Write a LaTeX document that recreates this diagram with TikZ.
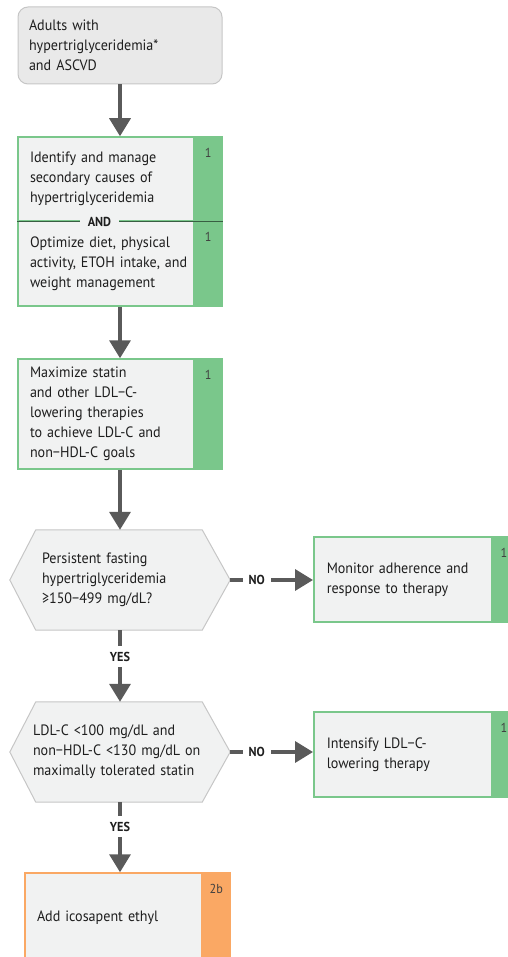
\documentclass[tikz,border=0pt]{standalone}
\usepackage{fontspec}
\setmainfont{PT Sans}[FakeStretch=0.94]
\usetikzlibrary{arrows.meta,positioning,backgrounds}
\definecolor{boxgray}{RGB}{241,242,242}
\definecolor{startgray}{RGB}{233,233,233}
\definecolor{edgegray}{RGB}{198,198,198}
\definecolor{recgreen}{RGB}{122,199,139}
\definecolor{darkgreen}{RGB}{56,94,66}
\definecolor{recorange}{RGB}{250,168,100}
\definecolor{arrowgray}{RGB}{90,90,90}
\definecolor{txt}{RGB}{30,30,30}
\tikzstyle{startbox} = [
	rectangle,
	rounded corners = 10pt,
	fill = startgray,
	draw = edgegray,
	line width = 1pt,
	minimum width = 204pt,
	minimum height = 77pt,
	inner xsep = 11pt,
	text width = 182pt,
	align = left
	]
\tikzset{recbox/.style = {
	rectangle,
	fill = boxgray,
	draw = #1,
	line width = 1.5pt,
	minimum width = 204pt,
	inner xsep = 12pt,
	text width = 180pt,
	align = left,
	path picture = {\fill[#1] ([xshift=-29pt]path picture bounding box.north east)
		rectangle (path picture bounding box.south east);}
	},
	recbox/.default = recgreen}
\tikzstyle{hexbox} = [
	rectangle,
	minimum width = 220pt,
	minimum height = 100pt,
	align = left
	]
\tikzstyle{hexline} = [
	fill = boxgray,
	draw = edgegray,
	line width = 1pt
	]
\tikzstyle{flow} = [
	-{Triangle[width=21pt,length=18pt]},
	line width = 3.5pt,
	arrowgray,
	draw
	]
\tikzstyle{answer} = [
	font = \bfseries\fontsize{13}{13}\selectfont,
	text = txt,
	fill = white,
	inner xsep = 6pt,
	inner ysep = 6pt
	]
\tikzstyle{andlabel} = [
	font = \bfseries\fontsize{13}{13}\selectfont,
	text = txt,
	fill = boxgray,
	inner xsep = 8pt,
	inner ysep = 1pt
	]
\tikzstyle{classno} = [
	font = \fontsize{13}{13}\selectfont,
	text = txt!85,
	inner sep = 0pt
	]
\begin{document}
\begin{tikzpicture}[x=1pt, y=-1pt, font=\fontsize{15}{20}\selectfont, text=txt]
	\useasboundingbox (0,0) rectangle (507,957);
	\node[startbox] (start) at (120,45.5) {Adults with\\hypertriglyceridemia*\\and ASCVD};
	\node[recbox, minimum height=84pt] (b2a) at (120,179) {Identify and manage\\secondary causes of\\hypertriglyceridemia};
	\node[recbox, minimum height=85pt] (b2b) at (120,263.5) {Optimize diet, physical\\activity, ETOH intake, and\\weight management};
	\draw[darkgreen, line width=1.5pt] (b2a.south west) -- node[andlabel, pos=0.4] (and) {AND} (b2a.south east);
	\node[recbox, minimum height=110pt] (b3) at (120,414) {Maximize statin\\and other LDL−C-\\lowering therapies\\to achieve LDL-C and\\non−HDL-C goals};
	\node[hexbox, inner xsep=32pt, text width=156pt] (h1) at (120,580) {Persistent fasting\\hypertriglyceridemia\\≥150−499 mg/dL?};
	\node[recbox, minimum width=206pt, minimum height=85pt, inner xsep=13pt, anchor=west] (m1) at (313,579.5) {Monitor adherence and\\response to therapy};
	\node[hexbox, inner xsep=23pt, text width=174pt] (h2) at (120,752) {LDL-C <100 mg/dL and\\non−HDL-C <130 mg/dL on\\maximally tolerated statin};
	\node[recbox, minimum width=206pt, minimum height=85pt, inner xsep=13pt, anchor=west] (m2) at (313,754.5) {Intensify LDL−C-\\lowering therapy};
	\node[recbox=recorange, minimum width=205pt, minimum height=90pt, text width=181pt] (b4) at (127.5,918) {Add icosapent ethyl};
	% hexagons behind the questions
	\begin{scope}[on background layer]
		\foreach \h in {h1,h2}
			\filldraw[hexline] (\h.west) -- ([xshift=26pt]\h.north west) -- ([xshift=-28pt]\h.north east)
				-- (\h.east) -- ([xshift=-28pt]\h.south east) -- ([xshift=26pt]\h.south west) -- cycle;
	\end{scope}
	% class of recommendation
	\foreach \b/\c/\dx in {b2a/1/14.5,b2b/1/14.5,b3/1/14.5,m1/1/16.5,m2/1/16.5,b4/2b/14.5}
		\node[classno] (c\b) at ([xshift=-\dx pt,yshift=-17pt]\b.north east) {\c};
	\draw[flow] (start) -- (b2a);
	\draw[flow] (b2b) -- (b3);
	\draw[flow] (b3) -- (h1);
	\draw[flow] (h1.east) -- node[answer, pos=0.32] (no1) {NO} (h1.east -| m1.west);
	\draw[flow] (h1) -- node[answer, pos=0.37] (yes1) {YES} (h2);
	\draw[flow] (h2.east) -- node[answer, pos=0.32] (no2) {NO} (h2.east -| m2.west);
	\draw[flow] (h2.south) -- node[answer, pos=0.35] (yes2) {YES} (h2.south |- b4.north);
\end{tikzpicture}
\end{document}
